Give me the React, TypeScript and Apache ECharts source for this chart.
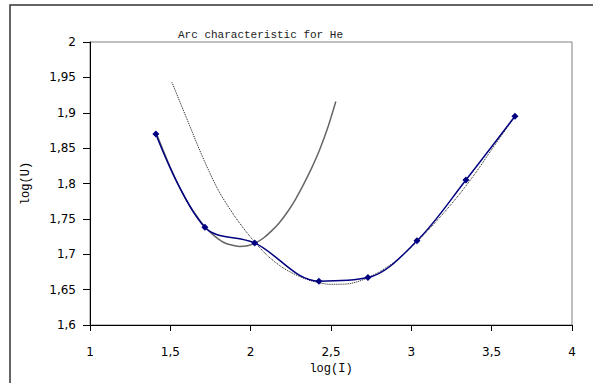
import React, { useEffect, useRef } from "react";
import * as echarts from "echarts";

// Measured points: log of arc current vs log of arc voltage
const measuredLogI = [1.41, 1.715, 2.025, 2.425, 2.73, 3.035, 3.34, 3.645];
const measuredLogU = [1.87, 1.738, 1.716, 1.662, 1.667, 1.719, 1.805, 1.895];

// Trend curve over the low-current points
const lowFitLogI = [1.41, 1.43, 1.48, 1.53, 1.58, 1.63, 1.68, 1.73, 1.78, 1.83, 1.88, 1.93, 1.98, 2.03, 2.08, 2.13, 2.18, 2.23, 2.28, 2.33, 2.38, 2.43, 2.48, 2.53];
const lowFitLogU = [1.872, 1.861, 1.833, 1.807, 1.785, 1.765, 1.749, 1.735, 1.725, 1.717, 1.713, 1.711, 1.712, 1.716, 1.723, 1.733, 1.745, 1.76, 1.778, 1.799, 1.822, 1.848, 1.879, 1.916];

// Trend curve over the whole range
const fullFitLogI = [1.51, 1.6, 1.7, 1.8, 1.9, 2.0, 2.1, 2.2, 2.3, 2.4, 2.5, 2.6, 2.7, 2.8, 2.9, 3.0, 3.1, 3.2, 3.3, 3.4, 3.5, 3.645];
const fullFitLogU = [1.943, 1.893, 1.838, 1.79, 1.754, 1.724, 1.699, 1.681, 1.669, 1.661, 1.6575, 1.658, 1.664, 1.675, 1.69, 1.71, 1.733, 1.758, 1.785, 1.815, 1.848, 1.895];

const zip = (xs: number[], ys: number[]) => xs.map((x, i) => [x, ys[i]]);
const commaNum = (v: number) => String(+v.toFixed(2)).replace(".", ",");

export default function App() {
  const ref = useRef<HTMLDivElement>(null);

  useEffect(() => {
    document.body.style.margin = "0";
    const chart = echarts.init(ref.current!, null, { renderer: "svg" });
    const labelFont = { fontFamily: "DejaVu Sans", fontSize: 12, color: "#000" };
    const nameFont = { fontFamily: "Liberation Mono", fontSize: 12, color: "#000" };
    chart.setOption({
      animation: false,
      backgroundColor: "#fff",
      title: {
        text: "Arc characteristic for He",
        left: 173,
        top: 24,
        textStyle: { fontFamily: "Liberation Mono", fontSize: 11, fontWeight: "normal", color: "#222" },
      },
      graphic: [
        {
          type: "rect",
          shape: { x: 10, y: 5, width: 700, height: 500 },
          style: { fill: "none", stroke: "#333", lineWidth: 1.5 },
          silent: true,
        },
      ],
      grid: {
        left: 90,
        top: 42,
        right: 21,
        bottom: 58,
        show: true,
        borderColor: "#808080",
        borderWidth: 1,
        backgroundColor: "transparent",
      },
      xAxis: {
        type: "value",
        min: 1,
        max: 4,
        interval: 0.5,
        name: "log(I)",
        nameLocation: "middle",
        nameGap: 35,
        nameTextStyle: nameFont,
        axisLine: { show: true, onZero: false, lineStyle: { color: "#000", width: 1 } },
        axisTick: { show: true, length: 6, lineStyle: { color: "#000" } },
        axisLabel: { ...labelFont, margin: 21, formatter: commaNum },
        splitLine: { show: false },
      },
      yAxis: {
        type: "value",
        min: 1.6,
        max: 2,
        interval: 0.05,
        name: "log(U)",
        nameLocation: "middle",
        nameGap: 58,
        nameTextStyle: nameFont,
        axisLine: { show: true, onZero: false, lineStyle: { color: "#000", width: 1 } },
        axisTick: { show: true, length: 7, lineStyle: { color: "#000" } },
        axisLabel: { ...labelFont, margin: 14, formatter: commaNum },
        splitLine: { show: false },
      },
      series: [
        {
          type: "line",
          data: zip(lowFitLogI, lowFitLogU),
          smooth: 0.2,
          showSymbol: false,
          lineStyle: { color: "#666", width: 1.5 },
          z: 2,
        },
        {
          type: "line",
          data: zip(fullFitLogI, fullFitLogU),
          smooth: 0.3,
          showSymbol: false,
          lineStyle: { color: "#111", width: 1, type: [1, 1] },
          z: 3,
        },
        {
          type: "line",
          data: zip(measuredLogI, measuredLogU),
          smooth: 0.35,
          symbol: "diamond",
          symbolSize: 7,
          itemStyle: { color: "#000080" },
          lineStyle: { color: "#000080", width: 1.5 },
          z: 4,
        },
      ],
    });
    return () => chart.dispose();
  }, []);

  return (
    <div
      ref={ref}
      style={{ position: "absolute", left: 0, top: 0, width: 593, height: 383 }}
    />
  );
}
